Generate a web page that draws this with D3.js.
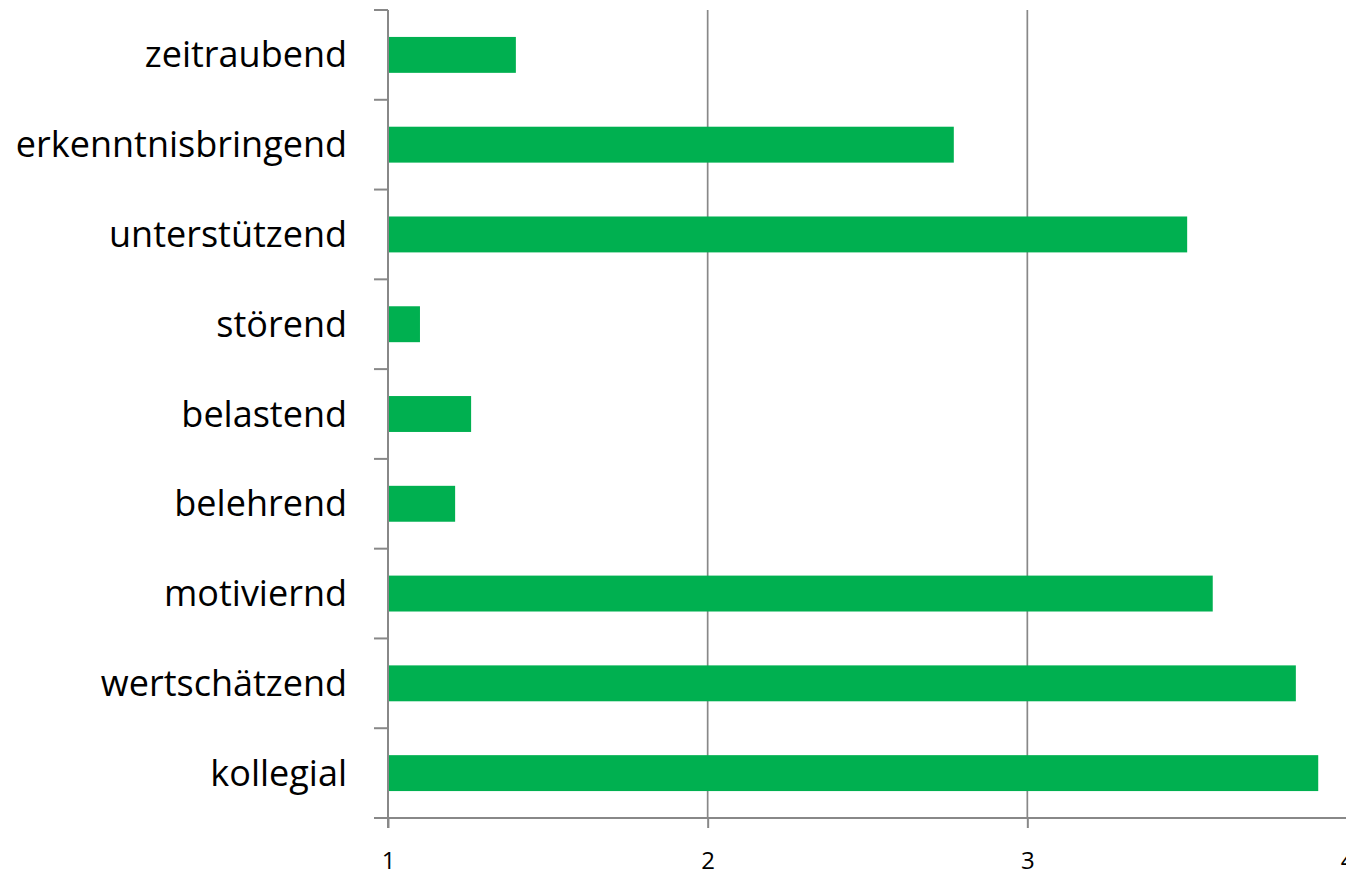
<!DOCTYPE html>
<html>
<head>
<meta charset="utf-8">
<script src="https://cdn.jsdelivr.net/npm/d3@7"></script>
<style>
  html, body { margin: 0; padding: 0; background: #fff; }
  svg { display: block; }
</style>
</head>
<body>
<svg id="chart" width="1346" height="879"></svg>
<script>
const categories = ["zeitraubend", "erkenntnisbringend", "unterstützend", "störend", "belastend", "belehrend", "motiviernd", "wertschätzend", "kollegial"];
const values = [1.40, 2.77, 3.50, 1.10, 1.26, 1.21, 3.58, 3.84, 3.91];
const xTicks = [1, 2, 3, 4];

const svg = d3.select("#chart");
const mLeft = 388, mRight = 1347, mTop = 10, mBottom = 818;
const gridColor = "#888888";

const x = d3.scaleLinear().domain([1, 4]).range([mLeft, mRight]);
const y = d3.scaleBand().domain(categories).range([mTop, mBottom]).paddingInner(0.6).paddingOuter(0.3);

// vertical gridlines
svg.append("g").selectAll("line").data(xTicks.slice(1)).join("line")
  .attr("x1", d => x(d)).attr("x2", d => x(d))
  .attr("y1", mTop).attr("y2", mBottom)
  .attr("stroke", gridColor).attr("stroke-width", 1.7);

// bars
svg.append("g").selectAll("rect").data(categories).join("rect")
  .attr("x", x(1) + 1)
  .attr("y", d => y(d))
  .attr("width", (d, i) => x(values[i]) - x(1) - 1)
  .attr("height", y.bandwidth())
  .attr("fill", "#00b050");

// x axis
const xAxis = d3.axisBottom(x).tickValues(xTicks).tickFormat(d3.format("d")).tickSize(10).tickPadding(24).tickSizeOuter(0);
const gx = svg.append("g").attr("transform", `translate(0,${mBottom})`).call(xAxis);
gx.select(".domain").remove();
gx.append("line").attr("x1", mLeft - 14).attr("x2", mRight).attr("y1", 0).attr("y2", 0)
  .attr("stroke", gridColor).attr("stroke-width", 2);
gx.selectAll(".tick line").attr("stroke", gridColor).attr("stroke-width", 2);
gx.selectAll(".tick text").attr("fill", "#000").style("font-family", "'Open Sans', sans-serif").style("font-size", "24px");

// y axis
const gy = svg.append("g").attr("transform", `translate(${mLeft},0)`);
gy.append("line").attr("x1", 0).attr("x2", 0).attr("y1", mTop).attr("y2", mBottom + 10)
  .attr("stroke", gridColor).attr("stroke-width", 2);
const boundaries = d3.range(categories.length).map(i => mTop + i * y.step());
gy.selectAll("line.tk").data(boundaries).join("line").attr("class", "tk")
  .attr("x1", -14).attr("x2", 0).attr("y1", d => d).attr("y2", d => d)
  .attr("stroke", gridColor).attr("stroke-width", 2);
gy.selectAll("text").data(categories).join("text")
  .attr("x", -41)
  .attr("y", d => y(d) + y.bandwidth() / 2)
  .attr("dy", "0.35em")
  .attr("text-anchor", "end")
  .attr("fill", "#000")
  .style("font-family", "'Open Sans', sans-serif")
  .style("font-size", "36px")
  .text(d => d);
</script>
</body>
</html>
